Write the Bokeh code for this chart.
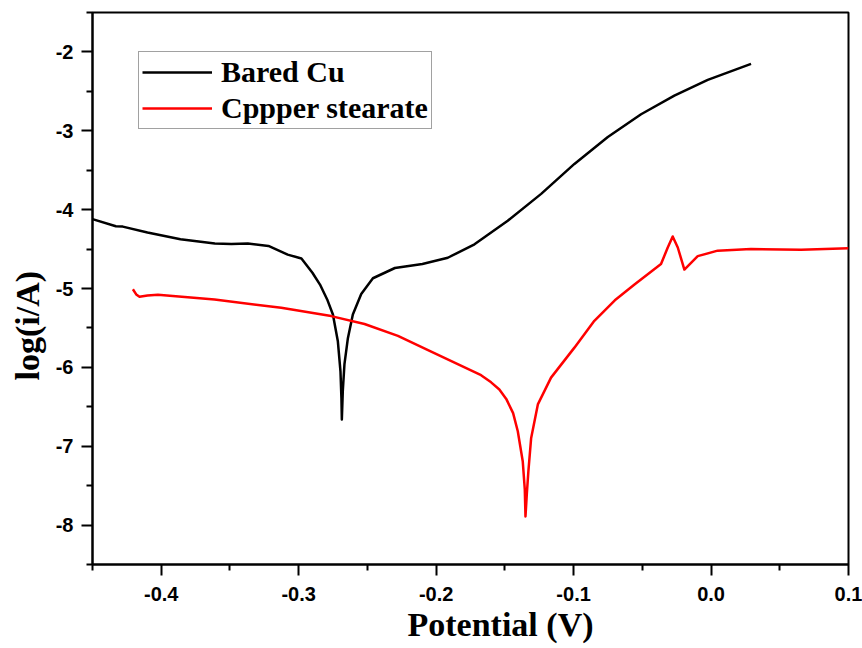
from bokeh.plotting import figure
from bokeh.models import FixedTicker, NumeralTickFormatter, Legend, LegendItem, Range1d, Title
from bokeh.embed import file_html
from bokeh.resources import INLINE

bare_x = [-0.450, -0.433, -0.428, -0.410, -0.386, -0.361, -0.349, -0.337, -0.322, -0.308,
          -0.298, -0.290, -0.2845, -0.279, -0.2751, -0.2715, -0.2696, -0.2689, -0.2686,
          -0.2679, -0.2667, -0.2642, -0.2606, -0.2545, -0.2460, -0.2300, -0.2100, -0.1915,
          -0.1721, -0.1479, -0.1236, -0.0994, -0.0751, -0.0509, -0.0267, -0.0024, 0.0291]
bare_y = [-4.12, -4.21, -4.215, -4.29, -4.375, -4.43, -4.435, -4.43, -4.46, -4.57,
          -4.62, -4.80, -4.95, -5.15, -5.33, -5.67, -6.05, -6.39, -6.66,
          -6.30, -5.96, -5.63, -5.33, -5.07, -4.87, -4.74, -4.69, -4.61,
          -4.44, -4.14, -3.80, -3.42, -3.08, -2.79, -2.555, -2.355, -2.152]

st_x = [-0.4206, -0.4182, -0.4158, -0.4100, -0.4024, -0.3612, -0.3127, -0.2764, -0.2521,
        -0.2278, -0.2036, -0.1673, -0.1600, -0.1540, -0.1490, -0.1440, -0.1406, -0.1370,
        -0.1355, -0.1350, -0.1340, -0.1329, -0.1309, -0.1260, -0.1164, -0.0994, -0.0849,
        -0.0700, -0.0557, -0.0364, -0.0315, -0.0279, -0.0242, -0.0194, -0.0097, 0.0048,
        0.0290, 0.0655, 0.1000]
st_y = [-5.01, -5.075, -5.105, -5.09, -5.08, -5.14, -5.245, -5.35, -5.45,
        -5.60, -5.80, -6.10, -6.19, -6.28, -6.40, -6.58, -6.81, -7.19,
        -7.55, -7.89, -7.60, -7.32, -6.90, -6.47, -6.13, -5.75, -5.41,
        -5.15, -4.95, -4.69, -4.48, -4.34, -4.48, -4.76, -4.59, -4.52,
        -4.50, -4.51, -4.49]

x_major = [-0.4, -0.3, -0.2, -0.1, 0.0, 0.1]
x_minor = [-0.45, -0.35, -0.25, -0.15, -0.05, 0.05]
y_major = [-8, -7, -6, -5, -4, -3, -2]
y_minor = [-8.5, -7.5, -6.5, -5.5, -4.5, -3.5, -2.5, -1.5]

p = figure(width=862, height=648, frame_width=756, frame_height=552,
           output_backend="svg", toolbar_location=None,
           x_range=Range1d(-0.45, 0.1), y_range=Range1d(-8.5, -1.5),
           min_border_left=91, min_border_right=15, min_border_top=12, min_border_bottom=84,
           background_fill_color="white", border_fill_color="white")
p.grid.visible = False
p.outline_line_color = "black"
p.outline_line_width = 2
p.outline_line_alpha = 1

r1 = p.line(bare_x, bare_y, line_color="black", line_width=2.5, line_join="round")
r2 = p.line(st_x, st_y, line_color="#ff0000", line_width=2.5, line_join="round")

for ax, maj, mnr in ((p.xaxis[0], x_major, x_minor), (p.yaxis[0], y_major, y_minor)):
    ax.ticker = FixedTicker(ticks=maj, minor_ticks=mnr)
    ax.axis_line_width = 2
    ax.major_tick_line_width = 2
    ax.minor_tick_line_width = 2
    ax.major_tick_in = 0
    ax.major_tick_out = 11
    ax.minor_tick_in = 0
    ax.minor_tick_out = 6
    ax.major_label_text_font = "Liberation Sans"
    ax.major_label_text_font_style = "bold"
    ax.major_label_text_font_size = "20px"
    ax.major_label_text_color = "black"

p.xaxis[0].formatter = NumeralTickFormatter(format="0.0")
p.yaxis[0].formatter = NumeralTickFormatter(format="0")
p.xaxis[0].major_label_standoff = 11
p.yaxis[0].major_label_standoff = 8

xlab = Title(text="Potential (V)", align="left", offset=315, standoff=0,
             text_font="Liberation Serif", text_font_style="bold", text_font_size="34px",
             text_color="black")
ylab = Title(text="log(i/A)", align="left", offset=184, standoff=13,
             text_font="Liberation Serif", text_font_style="bold", text_font_size="34px",
             text_color="black")
p.add_layout(xlab, "below")
p.add_layout(ylab, "left")

legend = Legend(items=[LegendItem(label="Bared Cu", renderers=[r1]),
                       LegendItem(label="Cppper stearate", renderers=[r2])],
                location=(46, 435))
legend.label_text_font = "Liberation Serif"
legend.label_text_font_style = "bold"
legend.label_text_font_size = "30px"
legend.label_text_color = "black"
legend.glyph_width = 70
legend.glyph_height = 28
legend.label_height = 28
legend.label_standoff = 9
legend.spacing = 2
legend.padding = 3
legend.margin = 0
legend.border_line_color = "#444444"
legend.border_line_width = 1
legend.background_fill_alpha = 1
p.add_layout(legend, "center")

open("out.html", "w").write(file_html(p, INLINE))
